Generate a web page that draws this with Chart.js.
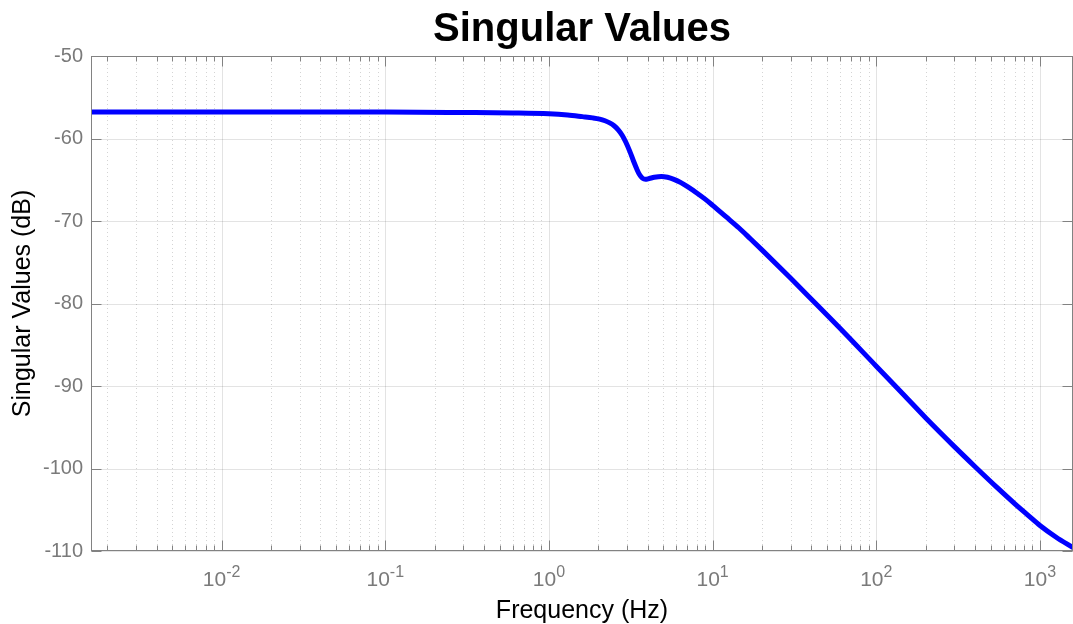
<!DOCTYPE html>
<html>
<head>
<meta charset="utf-8">
<script src="https://cdn.jsdelivr.net/npm/chart.js@4"></script>
<style>
  body { margin: 0; background: #fff; }
  canvas { display: block; }
</style>
</head>
<body>
<canvas id="myChart" width="1073" height="624"></canvas>
<script>
// valores
const freqHz = [0.00159, 0.01, 0.1, 0.3, 0.6, 1.0, 1.3, 1.6, 1.85, 2.04, 2.2, 2.35, 2.5, 2.65, 2.8, 2.95, 3.11, 3.28, 3.44, 3.58, 3.72, 3.88, 4.1, 4.4, 4.86, 5.3, 5.8, 6.4, 7.1, 8.0, 9.0, 10, 12, 14.5, 17, 20, 30, 40, 60, 100, 150, 200, 300, 400, 550, 700, 850, 1000, 1250, 1592]
const singularDb = [-56.8, -56.8, -56.8, -56.85, -56.9, -57.0, -57.15, -57.35, -57.5, -57.65, -57.85, -58.1, -58.45, -58.95, -59.6, -60.45, -61.5, -62.7, -63.7, -64.4, -64.8, -64.95, -64.85, -64.7, -64.6, -64.7, -64.95, -65.35, -65.9, -66.6, -67.35, -68.1, -69.45, -70.85, -72.15, -73.5, -76.95, -79.45, -83.0, -87.6, -91.25, -93.85, -97.35, -99.75, -102.35, -104.25, -105.7, -106.9, -108.3, -109.6]

const xDecades = [-2, -1, 0, 1, 2, 3]   // etiquetas 10^n
const yTicks = [-50, -60, -70, -80, -90, -100, -110]

const tituloGrafico = 'Singular Values'
const tituloX = 'Frequency (Hz)'
const tituloY = 'Singular Values (dB)'

const xMin = 0.01 / (2 * Math.PI)
const xMax = 1e4 / (2 * Math.PI)

const fuente = '"Liberation Sans", Arial, Helvetica, sans-serif'
const grisTexto = '#7a7a7a'
const grisEje = '#828282'

// dibuja rejilla, marco, marcas y textos con las escalas del grafico
const marco = {
    id: 'marco',
    beforeDatasetsDraw(chart) {
        const { ctx, chartArea: a, scales } = chart
        const sx = scales.x, sy = scales.y
        ctx.save()
        ctx.lineWidth = 1
        // rejilla menor (punteada)
        ctx.strokeStyle = 'rgba(38,38,38,0.2)'
        ctx.setLineDash([1, 3])
        for (let d = -3; d <= 3; d++) {
            for (let m = 2; m <= 9; m++) {
                const v = m * Math.pow(10, d)
                if (v < xMin || v > xMax) continue
                const px = Math.round(sx.getPixelForValue(v)) + 0.5
                ctx.beginPath(); ctx.moveTo(px, a.top); ctx.lineTo(px, a.bottom); ctx.stroke()
            }
        }
        // rejilla mayor
        ctx.setLineDash([])
        ctx.strokeStyle = 'rgba(38,38,38,0.13)'
        for (let d = -3; d <= 3; d++) {
            const v = Math.pow(10, d)
            if (v < xMin || v > xMax) continue
            const px = Math.round(sx.getPixelForValue(v)) + 0.5
            ctx.beginPath(); ctx.moveTo(px, a.top); ctx.lineTo(px, a.bottom); ctx.stroke()
        }
        yTicks.forEach(t => {
            const py = Math.round(sy.getPixelForValue(t)) + 0.5
            ctx.beginPath(); ctx.moveTo(a.left, py); ctx.lineTo(a.right, py); ctx.stroke()
        })
        ctx.restore()
    },
    afterDatasetsDraw(chart) {
        const { ctx, chartArea: a, scales } = chart
        const sx = scales.x, sy = scales.y
        ctx.save()
        ctx.strokeStyle = grisEje
        ctx.lineWidth = 1
        const L = Math.round(a.left) + 0.5, R = Math.round(a.right) - 0.5
        const T = Math.round(a.top) + 0.5, B = Math.round(a.bottom) - 0.5
        ctx.strokeRect(L, T, R - L, B - T)
        // marcas x (hacia adentro, arriba y abajo)
        for (let d = -3; d <= 3; d++) {
            for (let m = 1; m <= 9; m++) {
                const v = m * Math.pow(10, d)
                if (v < xMin || v > xMax) continue
                const px = Math.round(sx.getPixelForValue(v)) + 0.5
                const len = m === 1 ? 10 : 5
                ctx.beginPath()
                ctx.moveTo(px, B); ctx.lineTo(px, B - len)
                ctx.moveTo(px, T); ctx.lineTo(px, T + len)
                ctx.stroke()
            }
        }
        // marcas y
        yTicks.forEach(t => {
            const py = Math.round(sy.getPixelForValue(t)) + 0.5
            ctx.beginPath()
            ctx.moveTo(L, py); ctx.lineTo(L + 10, py)
            ctx.moveTo(R, py); ctx.lineTo(R - 10, py)
            ctx.stroke()
        })
        // etiquetas x con exponente
        ctx.fillStyle = grisTexto
        ctx.textAlign = 'left'
        ctx.textBaseline = 'alphabetic'
        xDecades.forEach(d => {
            const px = sx.getPixelForValue(Math.pow(10, d))
            const base = '10', exp = String(d)
            ctx.font = '21px ' + fuente
            const wb = ctx.measureText(base).width
            ctx.font = '16px ' + fuente
            const we = ctx.measureText(exp).width
            const x0 = px - (wb + we) / 2
            ctx.font = '21px ' + fuente
            ctx.fillText(base, x0, 586)
            ctx.font = '16px ' + fuente
            ctx.fillText(exp, x0 + wb, 577)
        })
        // titulos
        const cx = (a.left + a.right) / 2
        ctx.fillStyle = '#000'
        ctx.textAlign = 'center'
        ctx.font = 'bold 40px ' + fuente
        ctx.fillText(tituloGrafico, cx, 41)
        ctx.font = '25px ' + fuente
        ctx.fillText(tituloX, cx, 618)
        ctx.save()
        ctx.translate(30, (a.top + a.bottom) / 2)
        ctx.rotate(-Math.PI / 2)
        ctx.fillText(tituloY, 0, 0)
        ctx.restore()
        ctx.restore()
    }
}

function grafico_Valores() {
    const ctx = document.getElementById('myChart')
    const puntos = freqHz.map((f, i) => ({ x: f, y: singularDb[i] }))

    new Chart(ctx, {
        type: 'scatter',
        data: {
            datasets: [{
                data: puntos,
                showLine: true,
                borderColor: '#0000ff',
                backgroundColor: '#0000ff',
                borderWidth: 5,
                pointRadius: 0,
                cubicInterpolationMode: 'monotone',
                fill: false
            }]
        },
        options: {
            responsive: false,
            animation: false,
            layout: { padding: { top: 56, left: 0, right: -1, bottom: 0 } },
            plugins: {
                legend: { display: false },
                tooltip: { enabled: false },
                title: { display: false }
            },
            scales: {
                x: {
                    type: 'logarithmic',
                    min: xMin,
                    max: xMax,
                    grid: { display: false, drawTicks: false },
                    border: { display: false },
                    ticks: { display: false },
                    afterFit(s) { s.height = 73 }
                },
                y: {
                    type: 'linear',
                    min: -110,
                    max: -50,
                    grid: { display: false, drawTicks: false },
                    border: { display: false },
                    ticks: {
                        stepSize: 10,
                        padding: 8,
                        color: grisTexto,
                        font: { size: 20, family: fuente }
                    },
                    afterFit(s) { s.width = 91 }
                }
            }
        },
        plugins: [marco]
    })
}

grafico_Valores()
</script>
</body>
</html>
